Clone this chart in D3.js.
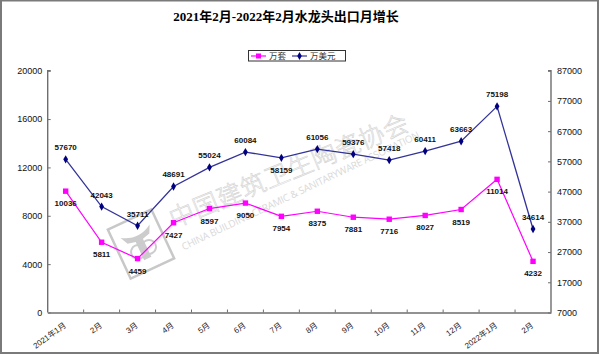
<!DOCTYPE html>
<html>
<head>
<meta charset="utf-8">
<script src="https://cdn.jsdelivr.net/npm/d3@7"></script>
<style>
html,body{margin:0;padding:0;background:#fff;}
svg{display:block;}
</style>
</head>
<body>
<svg id="chart" width="600" height="355"></svg>
<script>
const title = "2021年2月-2022年2月水龙头出口月增长";
const categories = ["2021年1月","2月","3月","4月","5月","6月","7月","8月","9月","10月","11月","12月","2022年1月","2月"];
const seriesNames = ["万套","万美元"];
const unitsValues = [10036,5811,4459,7427,8597,9050,7954,8375,7881,7716,8027,8519,11014,4232];
const usdValues = [57670,42043,35711,48691,55024,60084,58159,61056,59376,57418,60411,63663,75198,34614];
const leftTicks = [0,4000,8000,12000,16000,20000];
const rightTicks = [7000,17000,27000,37000,47000,57000,67000,77000,87000];
const usdLabelBelow = [false,false,false,false,false,false,true,false,false,false,false,false,false,false];
const watermarkCN = "中国建筑卫生陶瓷协会";
const watermarkEN = "CHINA BUILDING CERAMIC & SANITARYWARE ASSOCIATION";

const svg = d3.select("#chart");
const plot = {left: 47.7, right: 551, top: 70.7, bottom: 312.5};
const magenta = "#ff00ff", navy = "#000080", navyLine = "#333399";
const axisColor = "#6e6e6e";

// outer border
svg.append("rect").attr("x",1).attr("y",0.5).attr("width",597).attr("height",352.5)
  .attr("fill","#fff").attr("stroke","#7a7a7a").attr("stroke-width",2);

const idx = d3.range(categories.length);
const x = d3.scaleBand().domain(idx).range([plot.left, plot.right]).padding(0);
const yL = d3.scaleLinear().domain([0,20000]).range([plot.bottom, plot.top]);
const yR = d3.scaleLinear().domain([7000,87000]).range([plot.bottom, plot.top]);
const cx = (d,i) => x(i) + x.bandwidth()/2;

// watermark
const wm = svg.append("g").attr("class","watermark");
wm.append("text").attr("transform","translate(292,179) rotate(-22.5)")
  .attr("text-anchor","middle")
  .attr("font-family","'Noto Sans CJK SC'").attr("font-size",25).attr("font-weight",300)
  .attr("fill","#fff").attr("stroke","#d2d2d2").attr("stroke-width",0.6)
  .attr("textLength",256).attr("lengthAdjust","spacing")
  .text(watermarkCN);
wm.append("text").attr("transform","translate(302,194) rotate(-25.5)")
  .attr("text-anchor","middle")
  .attr("font-family","'Open Sans', Arial").attr("font-size",10)
  .attr("fill","#d9d9d9")
  .attr("textLength",262).attr("lengthAdjust","spacing")
  .text(watermarkEN);
const logo = wm.append("g").attr("transform","translate(141,244) rotate(-25)");
logo.append("rect").attr("x",-24).attr("y",-27).attr("width",48).attr("height",54)
  .attr("fill","none").attr("stroke","#c8c8c8").attr("stroke-width",2.5);
logo.append("path").attr("d","M-16,-14 Q0,-4 16,-14 L12,-6 L4,-4 L4,16 L-4,16 L-4,-4 L-12,-6 Z")
  .attr("fill","#cccccc");
logo.append("circle").attr("cx",-6).attr("cy",6).attr("r",7).attr("fill","none").attr("stroke","#cccccc").attr("stroke-width",2);
logo.append("circle").attr("cx",6).attr("cy",6).attr("r",7).attr("fill","none").attr("stroke","#cccccc").attr("stroke-width",2);

// title
svg.append("text").attr("x",286).attr("y",21).attr("text-anchor","middle")
  .attr("font-family","'Liberation Serif','Noto Sans CJK SC'").attr("font-weight","bold")
  .attr("font-size",13).attr("fill","#000").text(title);

// legend
const lg = svg.append("g");
lg.append("rect").attr("x",248.5).attr("y",50.5).attr("width",97).attr("height",10.5)
  .attr("fill","#fff").attr("stroke","#333").attr("stroke-width",1);
lg.append("line").attr("x1",251).attr("x2",266).attr("y1",56).attr("y2",56).attr("stroke",magenta).attr("stroke-width",1.2);
lg.append("rect").attr("x",256).attr("y",53.5).attr("width",5).attr("height",5).attr("fill",magenta);
lg.append("text").attr("x",269).attr("y",59.3).attr("font-family","'Liberation Serif','Noto Sans CJK SC'").attr("font-size",8.5).attr("fill","#333").text(seriesNames[0]);
lg.append("line").attr("x1",292).attr("x2",307).attr("y1",56).attr("y2",56).attr("stroke",navyLine).attr("stroke-width",1.2);
lg.append("path").attr("d",d3.symbol(d3.symbolDiamond,18)).attr("transform","translate(299.5,56)").attr("fill",navy);
lg.append("text").attr("x",310).attr("y",59.3).attr("font-family","'Liberation Serif','Noto Sans CJK SC'").attr("font-size",8.5).attr("fill","#333").text(seriesNames[1]);

// axes
const axL = svg.append("g").attr("transform",`translate(${plot.left},0)`)
  .call(d3.axisRight(yL).tickValues(leftTicks).tickSize(3).tickFormat(d3.format("d")));
axL.selectAll("text").attr("x",-5.5).attr("text-anchor","end");
const axR = svg.append("g").attr("transform",`translate(${plot.right},0)`)
  .call(d3.axisLeft(yR).tickValues(rightTicks).tickSize(3).tickFormat(d3.format("d")));
axR.selectAll("text").attr("x",6).attr("text-anchor","start");
const axB = svg.append("g").attr("transform",`translate(0,${plot.bottom})`)
  .call(d3.axisTop(x).tickSize(0).tickFormat(""));
[axL,axR,axB].forEach(a=>{
  a.select(".domain").attr("stroke",axisColor).attr("stroke-width",1.4);
  a.selectAll(".tick line").attr("stroke",axisColor).attr("stroke-width",1);
  a.selectAll("text").attr("font-family","Arial,'Liberation Sans'").attr("font-size",9).attr("fill","#111");
});
axL.select(".domain").attr("d",`M3,${plot.top}H0V${plot.bottom}`);
axR.select(".domain").attr("d",`M-3,${plot.top}H0V${plot.bottom}`);
// x category divider ticks (inside)
const dividers = idx.map(i=>x(i)).slice(1);
svg.append("g").selectAll("line").data(dividers).join("line")
  .attr("x1",d=>d).attr("x2",d=>d).attr("y1",plot.bottom).attr("y2",plot.bottom-3)
  .attr("stroke",axisColor).attr("stroke-width",1);
// x labels
svg.append("g").selectAll("text").data(categories).join("text")
  .attr("transform",(d,i)=>`translate(${cx(d,i)+1},${plot.bottom+14}) rotate(-36)`)
  .attr("text-anchor","end")
  .attr("font-family","Arial,'Liberation Sans','Noto Sans CJK SC'").attr("font-size",8)
  .attr("fill","#222").text(d=>d);

// series lines
const lineL = d3.line().x((d,i)=>cx(d,i)).y(d=>yL(d));
const lineR = d3.line().x((d,i)=>cx(d,i)).y(d=>yR(d));
svg.append("path").datum(unitsValues).attr("d",lineL).attr("fill","none").attr("stroke",magenta).attr("stroke-width",1.2);
svg.append("path").datum(usdValues).attr("d",lineR).attr("fill","none").attr("stroke",navyLine).attr("stroke-width",1.3);
svg.append("g").selectAll("rect").data(unitsValues).join("rect")
  .attr("x",(d,i)=>cx(d,i)-2.7).attr("y",d=>yL(d)-2.7).attr("width",5.4).attr("height",5.4).attr("fill",magenta);
svg.append("g").selectAll("path").data(usdValues).join("path")
  .attr("d",d3.symbol(d3.symbolDiamond,20))
  .attr("transform",(d,i)=>`translate(${cx(d,i)},${yR(d)})`).attr("fill",navy);

// data labels
const lblFont = "Arial,'Liberation Sans'";
svg.append("g").selectAll("text").data(unitsValues).join("text")
  .attr("x",(d,i)=>cx(d,i)).attr("y",d=>yL(d)+15)
  .attr("text-anchor","middle").attr("font-family",lblFont).attr("font-weight","bold")
  .attr("font-size",8).attr("fill","#111").text(d=>d);
svg.append("g").selectAll("text").data(usdValues).join("text")
  .attr("x",(d,i)=>cx(d,i)).attr("y",(d,i)=>usdLabelBelow[i] ? yR(d)+15 : yR(d)-9)
  .attr("text-anchor","middle").attr("font-family",lblFont).attr("font-weight","bold")
  .attr("font-size",8).attr("fill","#111").text(d=>d);
</script>
</body>
</html>
